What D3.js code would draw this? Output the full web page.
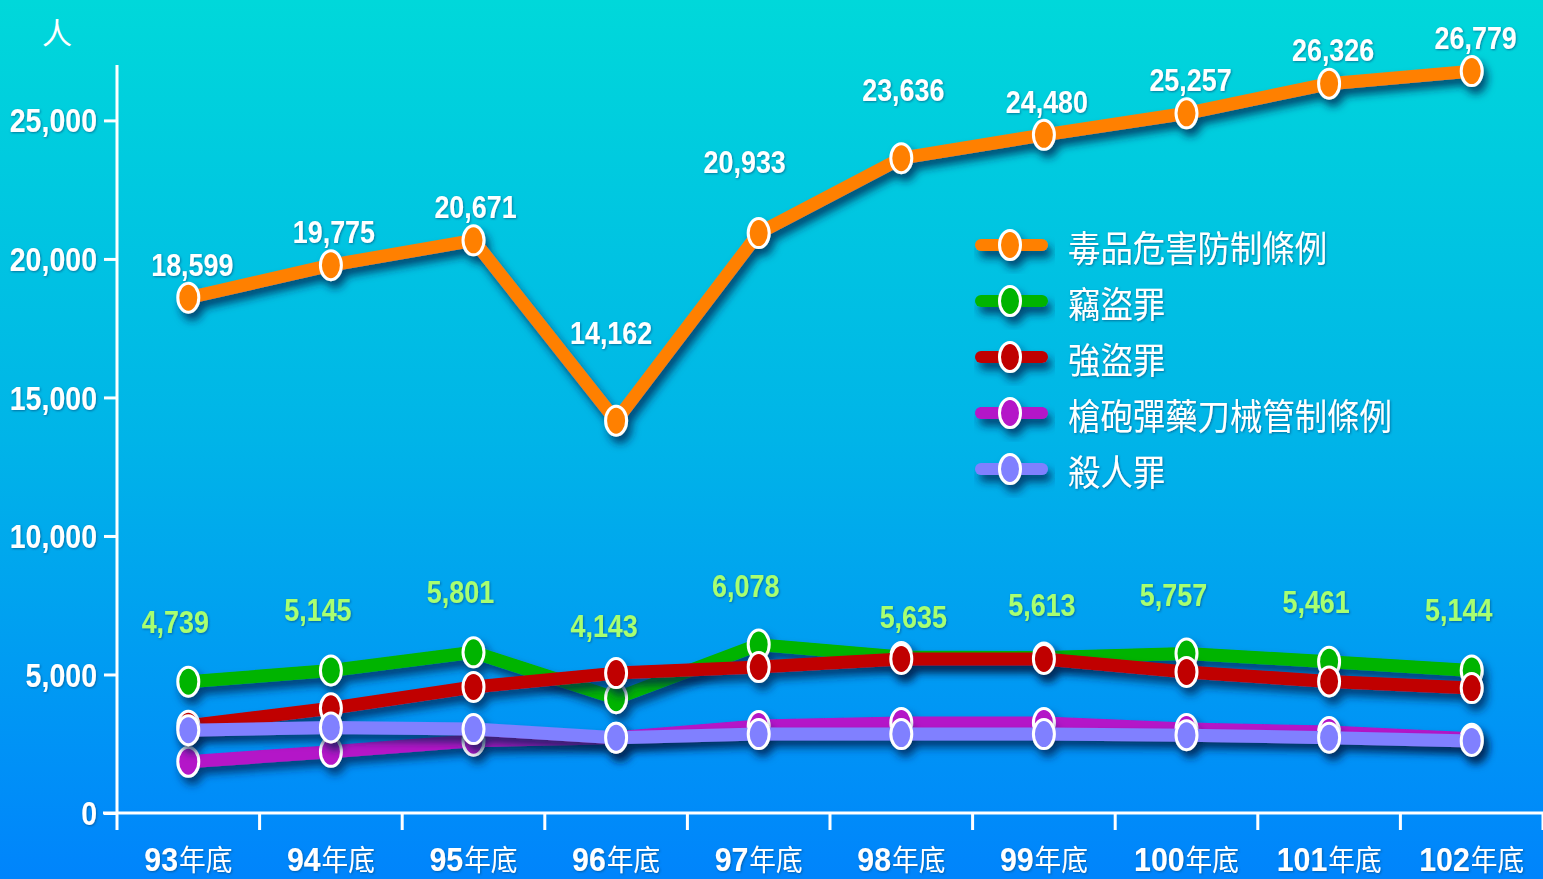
<!DOCTYPE html>
<html><head><meta charset="utf-8">
<script src="https://cdn.jsdelivr.net/npm/d3@7"></script>
<style>
html,body{margin:0;padding:0;overflow:hidden;background:#0090f0;}
svg{display:block;}
</style></head>
<body>
<svg id="chart" width="1543" height="879"></svg>
<script>
// ---------- data ----------
const categories = ["93","94","95","96","97","98","99","100","101","102"];
const catSuffix = "年底";
const seriesNames = ["毒品危害防制條例","竊盜罪","強盜罪","槍砲彈藥刀械管制條例","殺人罪"];
const drugs    = [18599,19775,20671,14162,20933,23636,24480,25257,26326,26779];
const theft    = [4739,5145,5801,4143,6078,5635,5613,5757,5461,5144];
const robbery  = [3150,3780,4550,5050,5270,5560,5560,5090,4750,4510];
const firearms = [1850,2210,2610,2720,3140,3250,3250,3030,2920,2680];
const homicide = [2990,3090,3030,2720,2850,2850,2850,2810,2720,2600];
const yTicks = [0,5000,10000,15000,20000,25000];
const yUnit = "人";

// ---------- style / layout ----------
const colors = ["#ff8000","#00b400","#c00000","#b414c8","#8080ff"];
const seriesValues = [drugs, theft, robbery, firearms, homicide];
// label nudges (layout only)
const drugLabelDx = [4,3,2,-5,-14,2,3,4,4,4];
const drugLabelDy = [-33,-33,-33,-88,-71,-68,-33,-33,-34,-33];
const theftLabelDx = [-13,-13,-13,-12,-13,12,-2,-13,-13,-13];
const theftLabelDy = [-60,-60,-60,-72,-59,-40,-52,-59,-60,-60];

const W = 1543, H = 879;
const svg = d3.select("#chart");
const defs = svg.append("defs");
const bg = defs.append("linearGradient").attr("id","bg").attr("x1",0).attr("y1",0).attr("x2",0).attr("y2",1);
bg.append("stop").attr("offset","0%").attr("stop-color","#00d8da");
bg.append("stop").attr("offset","50%").attr("stop-color","#00b4e8");
bg.append("stop").attr("offset","100%").attr("stop-color","#0084fc");
const sh = defs.append("filter").attr("id","shadow").attr("x","-10%").attr("y","-50%").attr("width","130%").attr("height","200%");
sh.append("feDropShadow").attr("dx",4).attr("dy",7).attr("stdDeviation",4)
  .attr("flood-color","#002050").attr("flood-opacity",0.75);
const tsh = defs.append("filter").attr("id","tshadow").attr("x","-20%").attr("y","-20%").attr("width","140%").attr("height","140%");
tsh.append("feDropShadow").attr("dx",1).attr("dy",1).attr("stdDeviation",1)
  .attr("flood-color","#004070").attr("flood-opacity",0.6);

svg.append("rect").attr("width",W).attr("height",H).attr("fill","url(#bg)");

const x = d3.scaleBand().domain(categories).range([117, 1543]);
const xc = d => x(d) + x.bandwidth()/2;
const y = d3.scaleLinear().domain([0, 27000]).range([813, 65]);

const numFont = "'Liberation Sans Narrow','Arial Narrow','Liberation Sans',Arial,sans-serif";
const cjkFont = "'Noto Sans CJK TC','Noto Sans CJK SC',sans-serif";

// ---------- axes ----------
const axisG = svg.append("g");
const yAxis = d3.axisLeft(y).tickValues(yTicks).tickSize(13).tickPadding(7)
  .tickFormat(d3.format(","));
const ya = axisG.append("g").attr("transform","translate(117,0)").call(yAxis);
ya.select(".domain").attr("stroke","#fff").attr("stroke-width",3).attr("d","M0,65V813");
ya.selectAll(".tick line").attr("stroke","#fff").attr("stroke-width",3);
ya.selectAll(".tick text").attr("fill","#fff").attr("font-family",numFont)
  .attr("font-weight","bold").attr("font-size",34).attr("dy","0.34em")
  .attr("transform","scale(0.84,1)").attr("x", -20/0.84)
  .attr("filter","url(#tshadow)");

// x axis
const xa = axisG.append("g").attr("transform","translate(0,813)");
xa.append("line").attr("x1",103).attr("x2",1543).attr("stroke","#fff").attr("stroke-width",3);
const bounds = categories.map(c => x(c)).concat([x(categories[categories.length-1]) + x.bandwidth()]);
xa.selectAll("line.t").data(bounds).join("line").attr("class","t")
  .attr("x1",d=>d).attr("x2",d=>d).attr("y1",0).attr("y2",17)
  .attr("stroke","#fff").attr("stroke-width",3);
const xl = xa.selectAll("text.xl").data(categories).join("text").attr("class","xl")
  .attr("transform",d=>`translate(${xc(d)},58) scale(0.92,1)`).attr("text-anchor","middle").attr("fill","#fff")
  .attr("filter","url(#tshadow)");
xl.append("tspan").attr("font-family",numFont).attr("font-weight","bold").attr("font-size",33)
  .text(d=>d);
xl.append("tspan").attr("font-family",cjkFont).attr("font-size",29).attr("dx",1).text(catSuffix);

svg.append("text").attr("x",57).attr("y",44).attr("text-anchor","middle")
  .attr("font-family",cjkFont).attr("font-size",30).attr("fill","#fff").text(yUnit);

// ---------- series ----------
const line = d3.line().x((d,i)=>xc(categories[i])).y(d=>y(d));
const plot = svg.append("g");
seriesValues.forEach((vals, s) => {
  const g = plot.append("g").attr("filter","url(#shadow)");
  g.append("path").datum(vals).attr("d", line).attr("fill","none")
    .attr("stroke", colors[s]).attr("stroke-width", 13).attr("stroke-linejoin","round");
  g.selectAll("ellipse").data(vals).join("ellipse")
    .attr("cx",(d,i)=>xc(categories[i])).attr("cy",d=>y(d))
    .attr("rx",10.5).attr("ry",14.5).attr("fill",colors[s])
    .attr("stroke","#fff").attr("stroke-width",3);
});

// ---------- value labels ----------
const fmt = d3.format(",");
const lab = svg.append("g").attr("font-family",numFont).attr("font-weight","bold")
  .attr("text-anchor","middle");
lab.selectAll("text.d").data(drugs).join("text").attr("class","d")
  .attr("transform",(d,i)=>`translate(${xc(categories[i])+drugLabelDx[i]},${y(d)+drugLabelDy[i]+11}) scale(0.84,1)`)
  .attr("font-size",32).attr("fill","#fff").attr("filter","url(#tshadow)").text(d=>fmt(d));
lab.selectAll("text.t").data(theft).join("text").attr("class","t")
  .attr("transform",(d,i)=>`translate(${xc(categories[i])+theftLabelDx[i]},${y(d)+theftLabelDy[i]+11}) scale(0.84,1)`)
  .attr("font-size",32).attr("fill","#a8ff70").attr("filter","url(#tshadow)").text(d=>fmt(d));

// ---------- legend ----------
const leg = svg.append("g");
const legY0 = 245, legStep = 56;
seriesNames.forEach((name, s) => {
  const gy = legY0 + s*legStep;
  const g = leg.append("g").attr("filter","url(#shadow)");
  g.append("line").attr("x1",981).attr("x2",1042).attr("y1",gy).attr("y2",gy)
    .attr("stroke",colors[s]).attr("stroke-width",12).attr("stroke-linecap","round");
  g.append("ellipse").attr("cx",1010).attr("cy",gy).attr("rx",10.5).attr("ry",14.5)
    .attr("fill",colors[s]).attr("stroke","#fff").attr("stroke-width",3);
  leg.append("text").attr("transform",`translate(1068,${gy+17}) scale(0.9,1)`)
    .attr("font-family",cjkFont).attr("font-size",36).attr("fill","#fff")
    .attr("filter","url(#tshadow)").text(name);
});
</script>
</body></html>
